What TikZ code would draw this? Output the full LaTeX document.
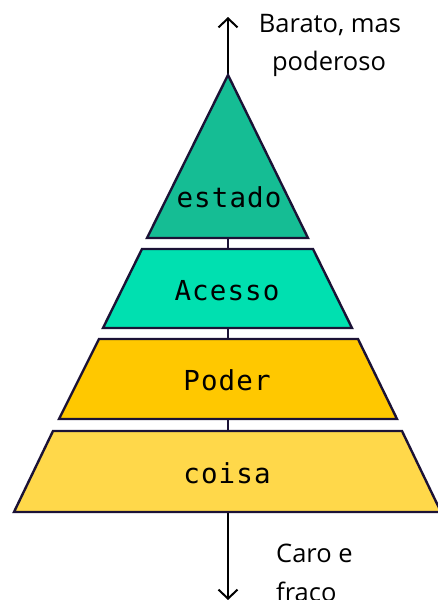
\documentclass[tikz,border=0pt]{standalone}
\usepackage{fontspec}
\setmainfont{Open Sans}
\newfontfamily\monof[LetterSpace=4]{DejaVu Sans Mono}
\usetikzlibrary{arrows.meta}
\definecolor{outl}{HTML}{1B1236}
\definecolor{cEstado}{HTML}{15BD94}
\definecolor{cAcesso}{HTML}{00E0B0}
\definecolor{cPoder}{HTML}{FFC800}
\definecolor{cCoisa}{HTML}{FFD84A}
\begin{document}
\begin{tikzpicture}[x=1pt,y=-1pt,
  layer/.style={draw=outl, line width=2.4pt, line join=miter},
  link/.style={draw=outl, line width=2pt},
  axis/.style={draw=black, line width=2pt, -{Straight Barb[length=9pt,width=19pt,line width=2pt]}},
  lbl/.style={font=\monof\fontsize{27.5}{30}\selectfont, text=black, anchor=base, inner sep=0pt},
  note/.style={font=\fontsize{25.5}{30}\selectfont, anchor=base, inner sep=0pt}]
\useasboundingbox (0,0) rectangle (438,600);
% coordinates
\coordinate (apex) at (228,75);
\coordinate (topTip) at (228,17);
\coordinate (triBase) at (228,238);
\coordinate (acTop) at (228,249);
\coordinate (acBot) at (228,328);
\coordinate (poTop) at (228,339);
\coordinate (poBot) at (228,419);
\coordinate (coTop) at (228,431);
\coordinate (coBot) at (228,512);
\coordinate (botTip) at (228,600);
% links
\draw[link] (triBase) -- (acTop);
\draw[link] (acBot) -- (poTop);
\draw[link] (poBot) -- (coTop);
% arrows
\draw[axis] (apex) -- (topTip);
\draw[axis] (coBot) -- (botTip);
% layers
\path[layer, fill=cEstado] (apex) -- (308,238) -- (147,238) -- cycle;
\path[layer, fill=cAcesso] (142,249) -- (313,249) -- (352,328) -- (103,328) -- cycle;
\path[layer, fill=cPoder] (99,339) -- (358,339) -- (397,419) -- (59,419) -- cycle;
\path[layer, fill=cCoisa] (53,431) -- (402,431) -- (441,512) -- (14,512) -- cycle;
% labels
\node[lbl] (estado) at (229,207) {estado};
\node[lbl] (acesso) at (227,300) {Acesso};
\node[lbl] (poder) at (227,390) {Poder};
\node[lbl] (coisa) at (227,483) {coisa};
\node[note] (barato) at (330,32) {Barato, mas};
\node[note] (poderoso) at (329,70) {poderoso};
\node[note, anchor=base west] (caro) at (276,562) {Caro e};
\node[note, anchor=base west] (fraco) at (276,601) {fraco};
\end{tikzpicture}
\end{document}
